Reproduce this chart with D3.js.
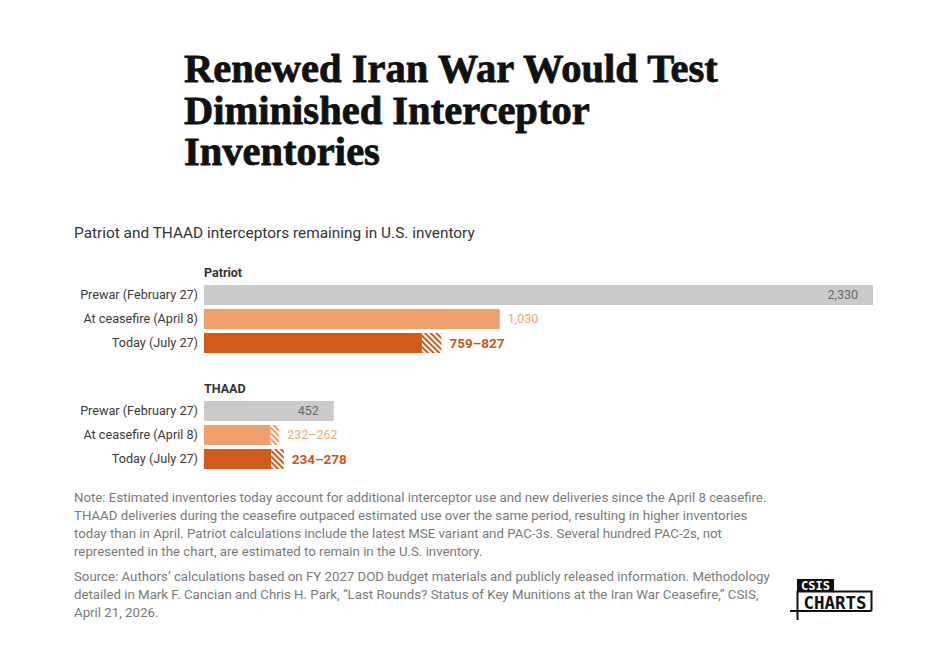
<!DOCTYPE html>
<html>
<head>
<meta charset="utf-8">
<script src="https://cdn.jsdelivr.net/npm/d3@7"></script>
<style>
  html, body { margin: 0; padding: 0; background: #fff; }
  svg { display: block; }
</style>
</head>
<body>
<svg id="chart" width="943" height="651"></svg>
<script>
// ---------- DATA ----------
const titleLines = ["Renewed Iran War Would Test", "Diminished Interceptor", "Inventories"];
const subtitle = "Patriot and THAAD interceptors remaining in U.S. inventory";
const systems = ["Patriot", "THAAD"];
const categories = ["Prewar (February 27)", "At ceasefire (April 8)", "Today (July 27)"];
const patriotLow  = [2330, 1030, 759];
const patriotHigh = [2330, 1030, 827];
const thaadLow    = [452, 232, 234];
const thaadHigh   = [452, 262, 278];
const patriotLabels = ["2,330", "1,030", "759–827"];
const thaadLabels   = ["452", "232–262", "234–278"];
const noteLines = [
  "Note: Estimated inventories today account for additional interceptor use and new deliveries since the April 8 ceasefire.",
  "THAAD deliveries during the ceasefire outpaced estimated use over the same period, resulting in higher inventories",
  "today than in April. Patriot calculations include the latest MSE variant and PAC-3s. Several hundred PAC-2s, not",
  "represented in the chart, are estimated to remain in the U.S. inventory."
];
const sourceLines = [
  "Source: Authors’ calculations based on FY 2027 DOD budget materials and publicly released information. Methodology",
  "detailed in Mark F. Cancian and Chris H. Park, “Last Rounds? Status of Key Munitions at the Iran War Ceasefire,” CSIS,",
  "April 21, 2026."
];

// ---------- STYLE ----------
const sans = "Roboto, 'Noto Sans', 'Liberation Sans', sans-serif";
const barColors = ["#cbcbcb", "#f0a06c", "#d05b1b"];
const labelColors = ["#6a6a6a", "#f0a878", "#c85716"];
const labelWeights = ["normal", "normal", "bold"];

const svg = d3.select("#chart");
const defs = svg.append("defs");

// hatch patterns
function hatch(id, color) {
  const p = defs.append("pattern")
    .attr("id", id).attr("patternUnits", "userSpaceOnUse")
    .attr("width", 4).attr("height", 4)
    .attr("patternTransform", "rotate(-45)");
  p.append("rect").attr("width", 4).attr("height", 4).attr("fill", "#fff");
  p.append("rect").attr("x", 0).attr("y", 0).attr("width", 2).attr("height", 4).attr("fill", color);
}
hatch("hatch1", barColors[1]);
hatch("hatch2", barColors[2]);

// fit helper: scale font-size so that the reference text matches target width
function fitSize(text, family, weight, baseSize, targetWidth) {
  const t = svg.append("text").attr("font-family", family).attr("font-weight", weight)
    .attr("font-size", baseSize).text(text);
  const w = t.node().getComputedTextLength();
  t.remove();
  return baseSize * targetWidth / w;
}

// ---------- TITLE ----------
const titleFamily = "'Liberation Serif', 'DejaVu Serif', serif";
const titleSize = fitSize(titleLines[0], titleFamily, "bold", 38, 534);
svg.append("g").selectAll("text").data(titleLines).join("text")
  .attr("x", 184).attr("y", (d, i) => 82 + i * 41.5)
  .attr("font-family", titleFamily).attr("font-weight", "bold")
  .attr("font-size", titleSize).attr("fill", "#111")
  .attr("stroke", "#111").attr("stroke-width", 0.8).attr("stroke-linejoin", "round")
  .text(d => d);

// ---------- SUBTITLE ----------
const subSize = fitSize(subtitle, sans, "normal", 14, 401);
svg.append("text").attr("x", 74).attr("y", 238)
  .attr("font-family", sans).attr("font-size", subSize).attr("fill", "#333").text(subtitle);

// ---------- BARS ----------
const x = d3.scaleLinear().domain([0, d3.max(patriotHigh)]).range([204, 873]);
const catSize = fitSize(categories[0], sans, "normal", 12.5, 118);

const groups = [
  { name: systems[0], low: patriotLow, high: patriotHigh, labels: patriotLabels, top: 285 },
  { name: systems[1], low: thaadLow, high: thaadHigh, labels: thaadLabels, top: 401 }
];

groups.forEach(g => {
  const y = d3.scaleBand().domain(categories).range([g.top, g.top + 68])
    .paddingInner(1 / 6).paddingOuter(0);
  const gg = svg.append("g");
  gg.append("text").attr("x", 204).attr("y", g.top - 8)
    .attr("font-family", sans).attr("font-weight", "bold").attr("font-size", 12.5)
    .attr("fill", "#333").text(g.name);

  const rows = categories.map((c, i) => ({ c, i, low: g.low[i], high: g.high[i], label: g.labels[i] }));

  // category labels
  gg.selectAll(".cat").data(rows).join("text")
    .attr("x", 198).attr("y", d => y(d.c) + y.bandwidth() / 2)
    .attr("dy", "0.35em").attr("text-anchor", "end")
    .attr("font-family", sans).attr("font-size", catSize).attr("fill", "#3a3a3a")
    .text(d => d.c);

  // solid bars
  gg.selectAll(".bar").data(rows).join("rect")
    .attr("x", x(0)).attr("y", d => y(d.c))
    .attr("width", d => x(d.low) - x(0)).attr("height", y.bandwidth())
    .attr("fill", d => barColors[d.i]);

  // hatched range
  gg.selectAll(".rng").data(rows.filter(d => d.high > d.low)).join("rect")
    .attr("x", d => x(d.low)).attr("y", d => y(d.c))
    .attr("width", d => x(d.high) - x(d.low)).attr("height", y.bandwidth())
    .attr("fill", d => `url(#hatch${d.i})`);

  // value labels
  gg.selectAll(".val").data(rows).join("text")
    .attr("x", d => d.i === 0 ? x(d.high) - 15 : x(d.high) + 8)
    .attr("y", d => y(d.c) + y.bandwidth() / 2).attr("dy", "0.35em")
    .attr("text-anchor", d => d.i === 0 ? "end" : "start")
    .attr("font-family", sans).attr("font-weight", d => labelWeights[d.i])
    .attr("font-size", d => d.i === 2 ? 13.5 : 12.5)
    .attr("fill", d => labelColors[d.i])
    .text(d => d.label);
});

// ---------- NOTES ----------
const noteSize = fitSize(noteLines[0], sans, "normal", 12.5, 693);
svg.append("g").selectAll("text").data(noteLines).join("text")
  .attr("x", 74).attr("y", (d, i) => 502 + i * 18)
  .attr("font-family", sans).attr("font-size", noteSize).attr("fill", "#7a7a7a").text(d => d);
svg.append("g").selectAll("text").data(sourceLines).join("text")
  .attr("x", 74).attr("y", (d, i) => 581 + i * 18)
  .attr("font-family", sans).attr("font-size", noteSize).attr("fill", "#7a7a7a").text(d => d);

// ---------- LOGO ----------
const logo = svg.append("g");
const mono = "'DejaVu Sans Mono', 'Liberation Mono', monospace";
logo.append("rect").attr("x", 797).attr("y", 579).attr("width", 37).attr("height", 13.5).attr("fill", "#111");
logo.append("text").attr("x", 815.5).attr("y", 589.5).attr("text-anchor", "middle")
  .attr("font-family", mono).attr("font-weight", "bold").attr("font-size", 12)
  .attr("fill", "#fff").text("CSIS");
logo.append("path")
  .attr("d", "M833,591.5 H871.5 V611 M790,611 H871.5 M797.5,591 V620")
  .attr("fill", "none").attr("stroke", "#111").attr("stroke-width", 2);
logo.append("text").attr("x", 835).attr("y", 609).attr("text-anchor", "middle")
  .attr("font-family", mono).attr("font-weight", "bold").attr("font-size", 17.5)
  .attr("fill", "#111").text("CHARTS");
</script>
</body>
</html>
